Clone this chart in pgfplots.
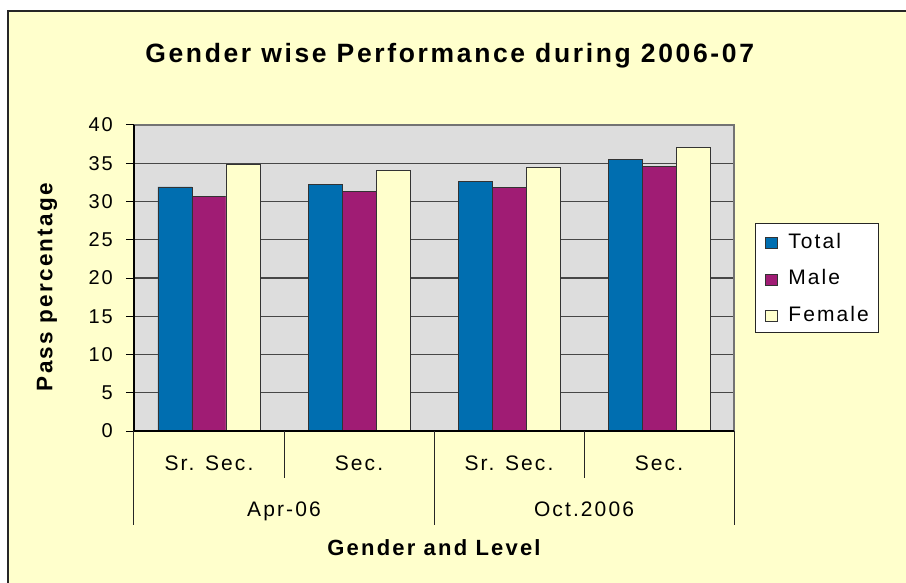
\documentclass[border=0pt]{standalone}
\usepackage{fontspec}
\setmainfont{Liberation Sans}[LetterSpace=10]
\usepackage{pgfplots}
\pgfplotsset{compat=1.18}
\definecolor{bgyellow}{HTML}{FFFFCC}
\definecolor{plotgray}{HTML}{DDDDDD}
\definecolor{barblue}{HTML}{006EB0}
\definecolor{barmag}{HTML}{A01C74}
\definecolor{barcream}{HTML}{FFFFCC}
\begin{document}
\begin{tikzpicture}[x=1pt,y=1pt]
\useasboundingbox (0,0) rectangle (906,582);
\begin{scope}
\clip (0,0) rectangle (906,582);
\fill[white] (0,0) rectangle (906,582);
\draw[fill=bgyellow, draw=black!85, line width=1.3pt] (8,571) rectangle (930,-20);
\end{scope}
\node[anchor=base, font=\fontsize{26.5}{30}\selectfont\bfseries] at (449.7,519.3) {Gender wise Performance during 2006-07};
\begin{axis}[
  at={(134pt,151pt)}, anchor=south west,
  width=600pt, height=306pt, scale only axis,
  clip=false,
  ymin=0, ymax=40, ytick={0,5,...,40},
  xmin=-0.5, xmax=3.5,
  xtick={0,1,2,3}, xticklabels={Sr. Sec., Sec., Sr. Sec., Sec.},
  ybar=0pt, bar width=34pt,
  axis background/.style={fill=plotgray},
  axis line style={draw=none},
  ymajorgrids, major grid style={draw=black!72, line width=1.1pt},
  tick align=outside, major tick length=8pt,
  ytick pos=left,
  ytick style={draw=black, line width=1pt},
  xtick style={draw=none},
  /pgf/number format/assume math mode=true,
  yticklabel style={anchor=east, inner sep=0pt, xshift=-13pt, font=\fontsize{20}{23}\selectfont},
  xticklabel style={anchor=base, inner sep=0pt, yshift=-31pt, font=\fontsize{21}{24}\selectfont},
  ylabel={Pass percentage},
  ylabel style={at={([xshift=-81.5pt]axis description cs:0,0.47)}, anchor=base, inner sep=0pt, font=\fontsize{22.5}{26}\selectfont\bfseries},
  xlabel={Gender and Level},
  xlabel style={at={([yshift=-124pt]axis description cs:0.5,0)}, anchor=base, inner sep=0pt, font=\fontsize{22}{26}\selectfont\bfseries},
  legend cell align=left,
  legend image code/.code={\draw[#1, line width=0.9pt] (0pt,-7pt) rectangle (12pt,4pt);},
  legend style={at={(1.035,0.5)}, anchor=west, draw=black!85, line width=0.9pt, fill=white,
    font=\fontsize{21}{24}\selectfont, row sep=19.5pt, column sep=10pt,
    inner xsep=10pt, inner ysep=9.5pt, nodes={inner sep=0pt}},
]
\addplot[fill=barblue, draw=black!80, line width=0.9pt] coordinates {(0,31.9) (1,32.2) (2,32.6) (3,35.5)};
\addplot[fill=barmag, draw=black!80, line width=0.9pt] coordinates {(0,30.6) (1,31.3) (2,31.8) (3,34.6)};
\addplot[fill=barcream, draw=black!80, line width=0.9pt] coordinates {(0,34.9) (1,34.0) (2,34.4) (3,37.1)};
\legend{Total, Male, Female}
\draw[black!55, line width=1.1pt] (rel axis cs:0,1) -- (rel axis cs:1,1) -- (rel axis cs:1,0);
\draw[black, line width=1.1pt] (rel axis cs:0,1) -- (rel axis cs:0,0) -- (rel axis cs:1,0);
\draw[black!85, line width=1pt] (axis cs:0.5,0) -- ([yshift=-47pt]axis cs:0.5,0);
\draw[black!85, line width=1pt] (axis cs:2.5,0) -- ([yshift=-47pt]axis cs:2.5,0);
\draw[black!85, line width=1pt] (axis cs:-0.5,0) -- ([yshift=-94pt]axis cs:-0.5,0);
\draw[black!85, line width=1pt] (axis cs:1.5,0) -- ([yshift=-94pt]axis cs:1.5,0);
\draw[black!85, line width=1pt] (axis cs:3.5,0) -- ([yshift=-94pt]axis cs:3.5,0);
\node[anchor=base, inner sep=0pt, font=\fontsize{21}{24}\selectfont] at ([yshift=-85pt]axis cs:0.5,0) {Apr-06};
\node[anchor=base, inner sep=0pt, font=\fontsize{21}{24}\selectfont] at ([yshift=-85pt]axis cs:2.5,0) {Oct.2006};
\end{axis}
\end{tikzpicture}
\end{document}
